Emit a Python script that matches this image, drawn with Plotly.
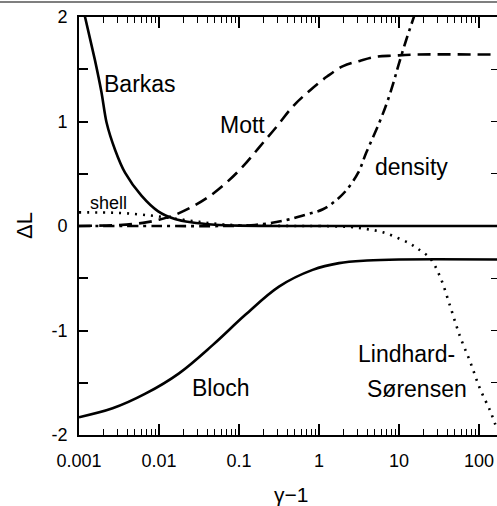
import plotly.graph_objects as go

# gamma-1 values and Delta L corrections
barkas_x = [0.001, 0.00119, 0.00158, 0.00191, 0.00221, 0.00282, 0.00376, 0.00603, 0.00977,
            0.0158, 0.0251, 0.0501, 0.1, 0.316, 1, 180]
barkas_y = [2.28, 2.0, 1.59, 1.28, 0.99, 0.73, 0.51, 0.29, 0.14,
            0.067, 0.035, 0.012, 0.004, 0.0, 0.0, 0.0]

bloch_x = [0.001, 0.00263, 0.00676, 0.0178, 0.0468, 0.120, 0.316, 0.832, 1.78, 3.98, 10, 180]
bloch_y = [-1.83, -1.745, -1.605, -1.41, -1.14, -0.85, -0.58, -0.42, -0.355, -0.33, -0.32, -0.32]

mott_x = [0.001, 0.0032, 0.0063, 0.01, 0.0151, 0.0269, 0.0437, 0.0708, 0.112, 0.182,
          0.295, 0.479, 0.776, 1.26, 2.0, 3.24, 5.25, 8.51, 15.1, 180]
mott_y = [0.0, 0.01, 0.03, 0.06, 0.10, 0.19, 0.29, 0.42, 0.57, 0.76,
          0.95, 1.15, 1.30, 1.43, 1.53, 1.58, 1.62, 1.63, 1.64, 1.64]

density_x = [0.001, 0.01, 0.0631, 0.158, 0.355, 0.692, 1.12, 1.66, 2.24, 3.09, 3.89,
             5.75, 7.08, 8.51, 9.77, 12.3, 15.8, 22.4]
density_y = [0.0, 0.0, 0.0, 0.01, 0.05, 0.11, 0.16, 0.25, 0.35, 0.51, 0.70,
             1.00, 1.18, 1.37, 1.53, 1.78, 2.03, 2.4]

shell_x = [0.001, 0.0032, 0.0079, 0.016, 0.032, 0.063, 0.13, 1]
shell_y = [0.13, 0.125, 0.10, 0.07, 0.04, 0.015, 0.005, 0.0]

ls_x = [1, 2.5, 4, 6.3, 10, 13.8, 17.4, 24.5, 32.4, 43.7, 57.5, 77.6, 102, 138, 160]
ls_y = [0.0, -0.01, -0.03, -0.06, -0.12, -0.17, -0.22, -0.31, -0.48, -0.77,
        -1.05, -1.30, -1.55, -1.77, -1.9]

x_tickvals = [0.001, 0.01, 0.1, 1, 10, 100]
x_ticktext = ["0.001", "0.01", "0.1", "1", "10", "100"]
y_tickvals = [-2, -1.5, -1, -0.5, 0, 0.5, 1, 1.5, 2]
y_ticktext = ["-2", "", "-1", "", "0", "", "1", "", "2"]

labels = [
    ("Barkas", 102, 84, 23),
    ("Mott", 218, 125, 23),
    ("density", 373, 167, 23),
    ("shell", 88, 203, 18),
    ("Bloch", 190, 388, 23),
    ("Lindhard-", 356, 354, 23),
    ("Sørensen", 365, 389, 23),
]

FONT = "Liberation Sans"
L, T, B = 79, 17, 71
W, H = 497, 506
PW, PH = W - L, H - T - B

fig = go.Figure()
lw = 2.6
fig.add_trace(go.Scatter(x=barkas_x, y=barkas_y, mode="lines", line=dict(color="black", width=lw, shape="spline", smoothing=0.8)))
fig.add_trace(go.Scatter(x=bloch_x, y=bloch_y, mode="lines", line=dict(color="black", width=lw, shape="spline", smoothing=1.0)))
fig.add_trace(go.Scatter(x=mott_x, y=mott_y, mode="lines", line=dict(color="black", width=lw, shape="spline", smoothing=1.0, dash="13px,7px")))
fig.add_trace(go.Scatter(x=density_x, y=density_y, mode="lines", line=dict(color="black", width=lw, shape="spline", smoothing=1.0, dash="11px,5px,3px,5px")))
fig.add_trace(go.Scatter(x=shell_x, y=shell_y, mode="lines", line=dict(color="black", width=lw, shape="spline", dash="2px,6px")))
fig.add_trace(go.Scatter(x=ls_x, y=ls_y, mode="lines", line=dict(color="black", width=lw, shape="spline", dash="2px,6px")))
# invisible trace for right-side ticks
fig.add_trace(go.Scatter(x=[0.001], y=[0], yaxis="y2", mode="markers", marker=dict(opacity=0), hoverinfo="skip"))

for text, px, py, fs in labels:
    fig.add_annotation(text=text, xref="paper", yref="paper",
                       x=(px - L) / PW, y=(H - B - py) / PH,
                       xanchor="left", yanchor="middle", showarrow=False,
                       font=dict(family=FONT, size=fs, color="black"))

fig.add_annotation(text="ΔL", xref="paper", yref="paper", x=(24 - L) / PW, y=0.5,
                   textangle=-90, showarrow=False, xanchor="center", yanchor="middle",
                   font=dict(family=FONT, size=22, color="black"))
fig.add_annotation(text="γ−1", xref="paper", yref="paper", x=(291 - L) / PW, y=(H - B - 494) / PH,
                   showarrow=False, xanchor="center", yanchor="middle",
                   font=dict(family=FONT, size=21, color="black"))

fig.add_shape(type="line", xref="paper", yref="paper", x0=-L / PW, x1=1.0,
              y0=(H - B - 2) / PH, y1=(H - B - 2) / PH, line=dict(color="#555", width=1.5))

fig.update_layout(
    width=W, height=H,
    margin=dict(l=L, r=0, t=T, b=B),
    paper_bgcolor="white", plot_bgcolor="white",
    showlegend=False,
    font=dict(family=FONT, size=18, color="black"),
    xaxis=dict(type="log", range=[-3, 2.225], showgrid=False, zeroline=False,
               showline=True, linecolor="black", linewidth=1.8, mirror="ticks",
               ticks="inside", ticklen=11, tickwidth=1.6, tickcolor="black",
               tickvals=x_tickvals, ticktext=x_ticktext, ticklabelstandoff=8,
               minor=dict(ticks="inside", ticklen=6, tickwidth=1.4, tickcolor="black",
                          dtick="D1", showgrid=False)),
    yaxis=dict(range=[-2, 2], showgrid=False, zeroline=False,
               showline=True, linecolor="black", linewidth=1.8,
               ticks="inside", ticklen=9, tickwidth=1.6, tickcolor="black",
               tickvals=y_tickvals, ticktext=y_ticktext, ticklabelstandoff=6),
    yaxis2=dict(range=[-2, 2], overlaying="y", side="right", showgrid=False, zeroline=False,
                showline=False, ticks="inside", ticklen=6, tickwidth=1.4, tickcolor="black",
                tickvals=y_tickvals, showticklabels=False),
)

fig.write_html("out.html", config={"displayModeBar": False},
               post_script="document.body.style.margin='0';document.body.style.overflow='hidden';")
